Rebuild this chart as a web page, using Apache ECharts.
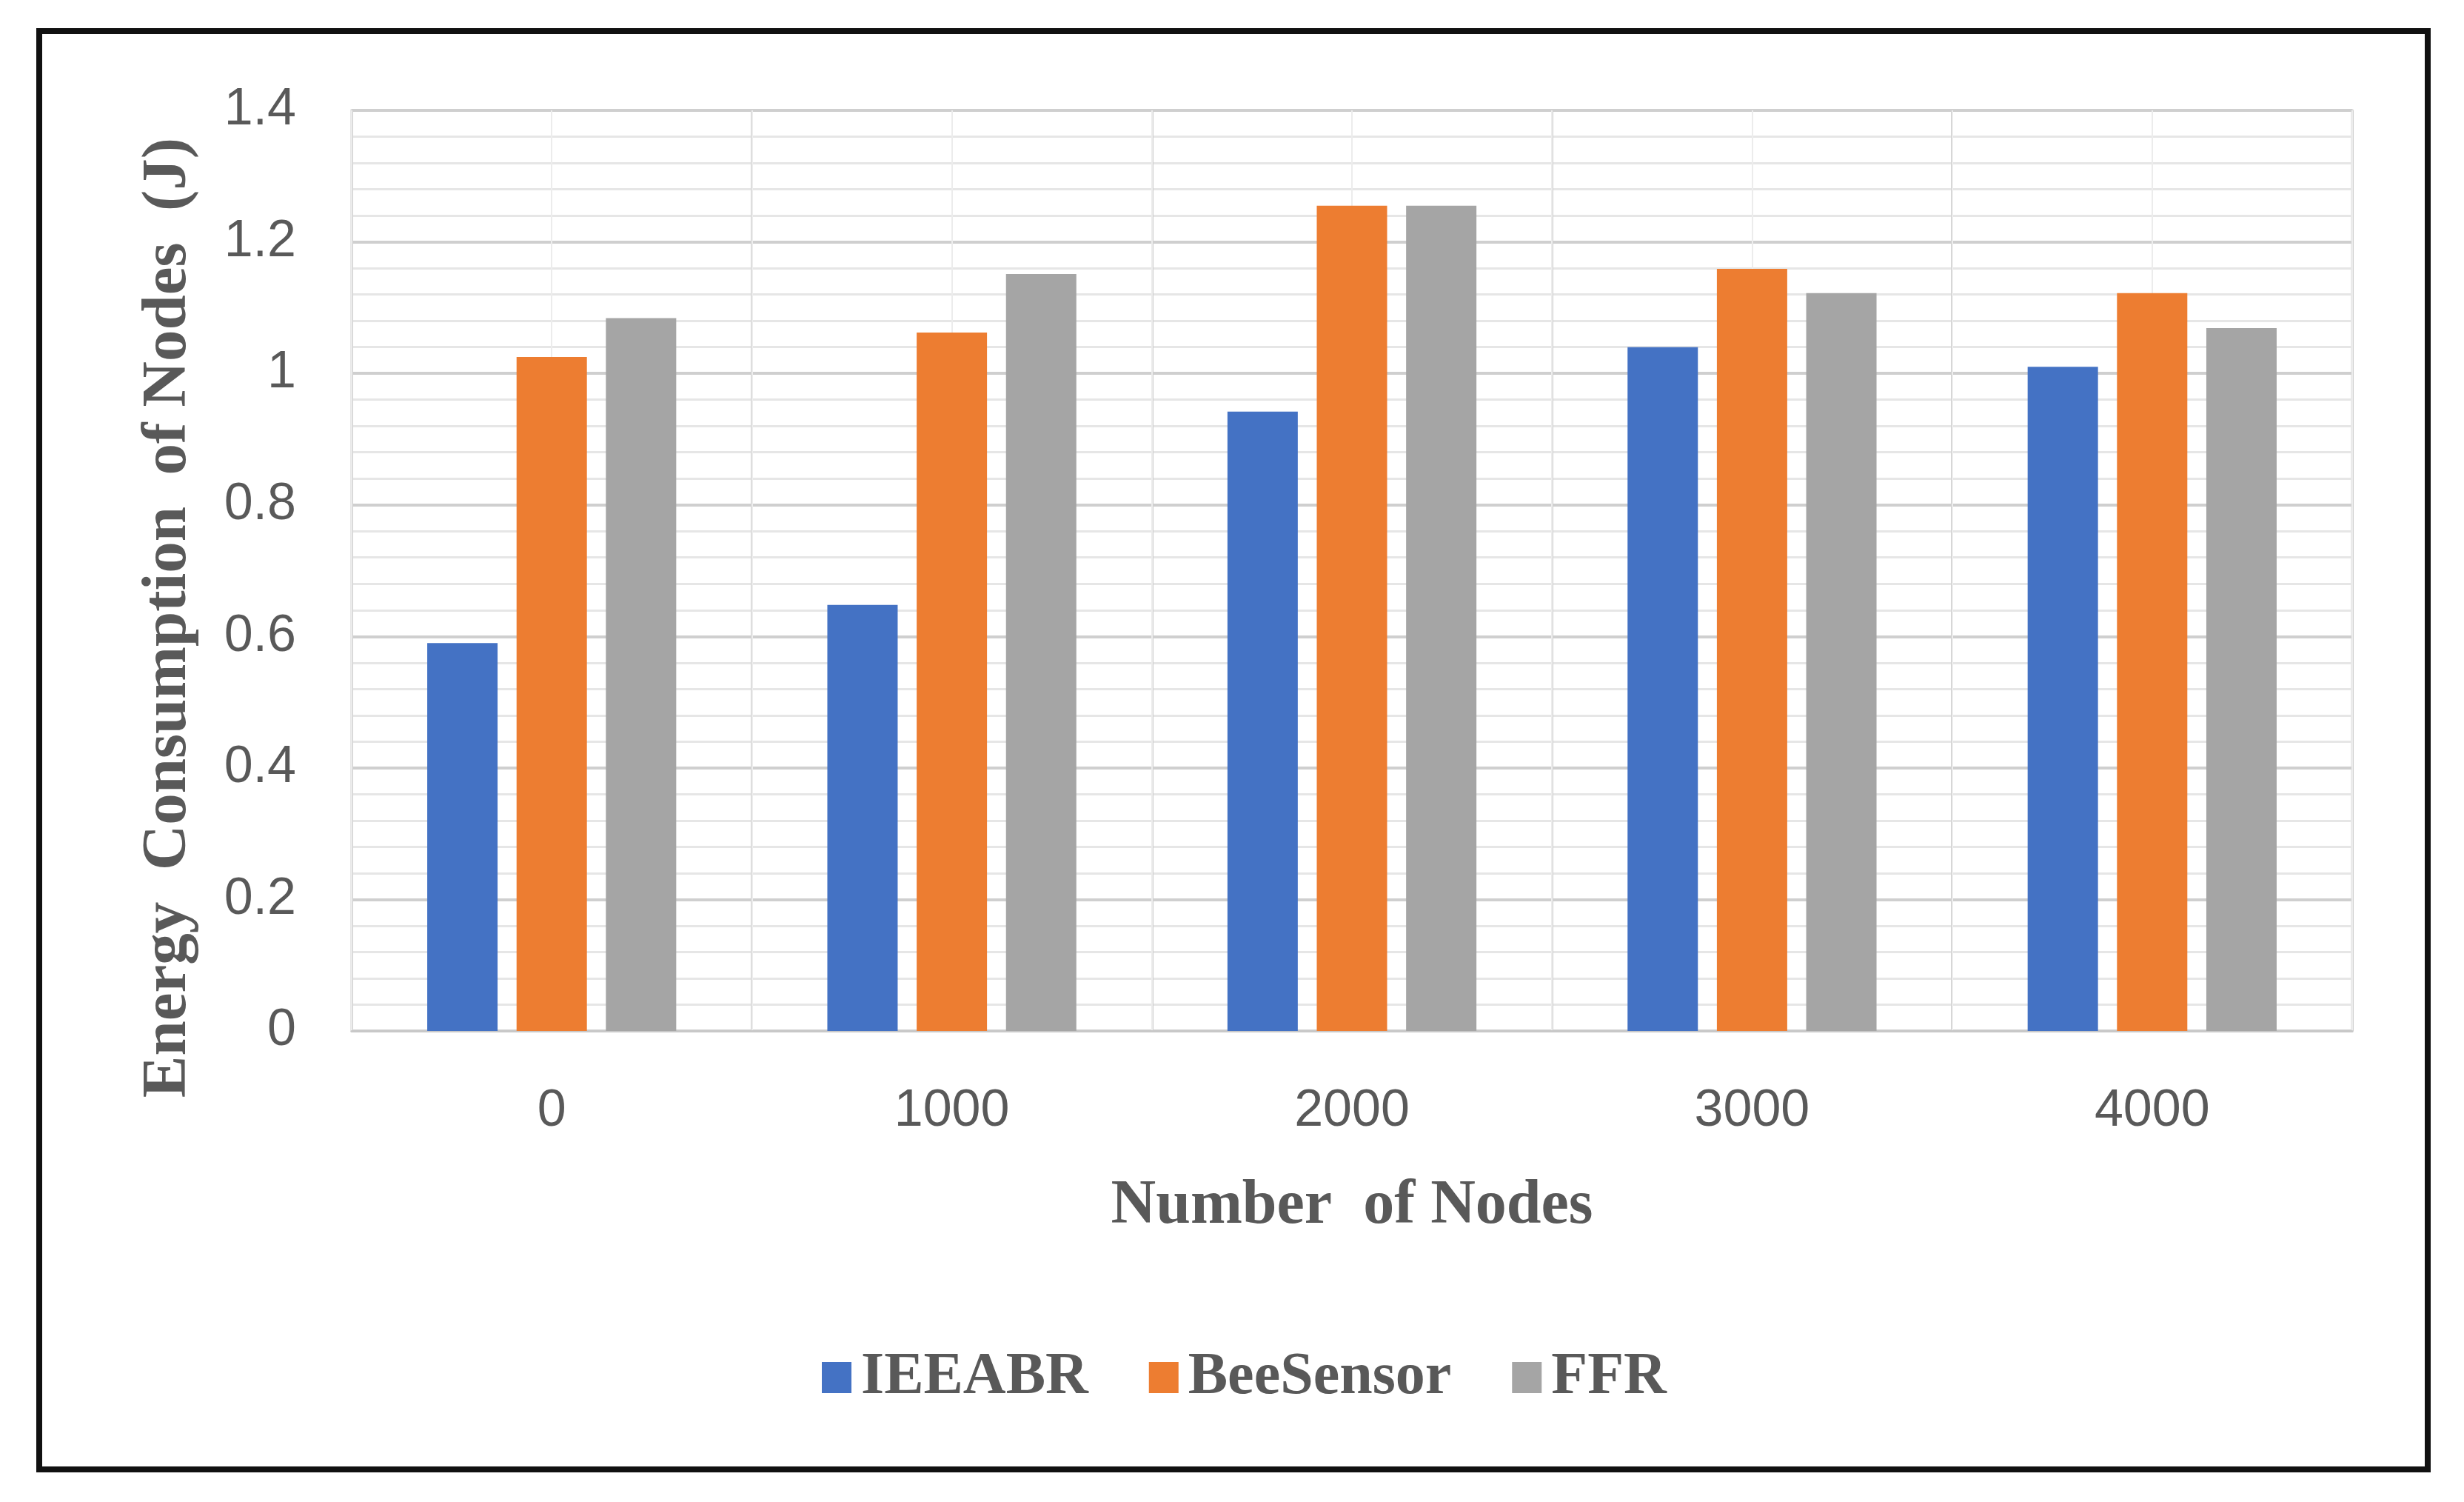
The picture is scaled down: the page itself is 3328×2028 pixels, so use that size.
<!DOCTYPE html>
<html>
<head>
<meta charset="utf-8">
<script src="https://cdn.jsdelivr.net/npm/echarts@6/dist/echarts.min.js"></script>
<style>
html,body{margin:0;padding:0;background:#fff;}
#chart{width:3328px;height:2028px;}
</style>
</head>
<body>
<div id="chart"></div>
<script>
const categories = ['0', '1000', '2000', '3000', '4000'];
const seriesNames = ['IEEABR', 'BeeSensor', 'FFR'];
const ieeabr = [0.59, 0.648, 0.942, 1.04, 1.01];
const beeSensor = [1.025, 1.062, 1.255, 1.159, 1.122];
const ffr = [1.084, 1.151, 1.255, 1.122, 1.069];
const colors = ['#4472C4', '#ED7D31', '#A5A5A5'];
const yTitle = 'Energy  Consumption  of Nodes  (J)';
const xTitle = 'Number  of Nodes';

const chart = echarts.init(document.getElementById('chart'));
const labelFont = '"Liberation Sans", Arial, sans-serif';
const titleFont = '"Liberation Serif", "DejaVu Serif", serif';

chart.setOption({
  backgroundColor: '#ffffff',
  animation: false,
  graphic: [{
    type: 'rect',
    shape: {x: 53, y: 42, width: 3226, height: 1942},
    style: {fill: 'none', stroke: '#111', lineWidth: 8},
    z: 100
  }, {
    type: 'text',
    x: 228, y: 834,
    rotation: Math.PI / 2,
    style: {text: yTitle, fontFamily: titleFont, fontWeight: 'bold', fontSize: 85,
      fill: '#595959', align: 'center', verticalAlign: 'middle'},
    z: 50
  }],
  grid: {
    left: 475, right: 151, top: 149, bottom: 636,
    show: true, borderColor: '#d0d0d0', borderWidth: 3, backgroundColor: 'transparent'
  },
  legend: {
    data: seriesNames,
    top: 1820,
    left: 1110,
    padding: 0,
    itemWidth: 40,
    itemHeight: 42,
    itemGap: 82,
    icon: 'rect',
    textStyle: {fontFamily: titleFont, fontWeight: 'bold', fontSize: 80, lineHeight: 80,
      color: '#595959', padding: [0, 0, 0, 8]}
  },
  xAxis: [{
    type: 'category',
    data: categories,
    axisLine: {show: true, lineStyle: {color: '#c8c8c8', width: 3}},
    axisTick: {show: false},
    axisLabel: {fontFamily: labelFont, fontSize: 70, color: '#595959', margin: 74},
    splitLine: {show: true, lineStyle: {color: '#cfcfcf', width: 3}},
    name: xTitle,
    nameLocation: 'middle',
    nameGap: 195,
    nameTextStyle: {fontFamily: titleFont, fontWeight: 'bold', fontSize: 84, color: '#595959'}
  }, {
    type: 'value',
    min: 0, max: 10, interval: 1,
    show: true,
    axisLine: {show: false}, axisTick: {show: false}, axisLabel: {show: false},
    splitLine: {show: true, lineStyle: {color: '#ececec', width: 2}}
  }],
  yAxis: {
    type: 'value',
    min: 0, max: 1.4, interval: 0.2,
    axisLine: {show: false},
    axisTick: {show: false},
    axisLabel: {fontFamily: labelFont, fontSize: 70, color: '#595959', margin: 75,
      formatter: v => (Math.round(v * 10) / 10).toString()},
    splitLine: {show: true, lineStyle: {color: '#cfcfcf', width: 4}},
    minorTick: {show: false, splitNumber: 5},
    minorSplitLine: {show: true, lineStyle: {color: '#e6e6e6', width: 3}}
  },
  series: [
    {name: seriesNames[0], type: 'bar', data: ieeabr, itemStyle: {color: colors[0]}, barWidth: 95, barGap: '27%', z: 3},
    {name: seriesNames[1], type: 'bar', data: beeSensor, itemStyle: {color: colors[1]}, barWidth: 95, barGap: '27%', z: 3},
    {name: seriesNames[2], type: 'bar', data: ffr, itemStyle: {color: colors[2]}, barWidth: 95, barGap: '27%', z: 3}
  ]
});
</script>
</body>
</html>
